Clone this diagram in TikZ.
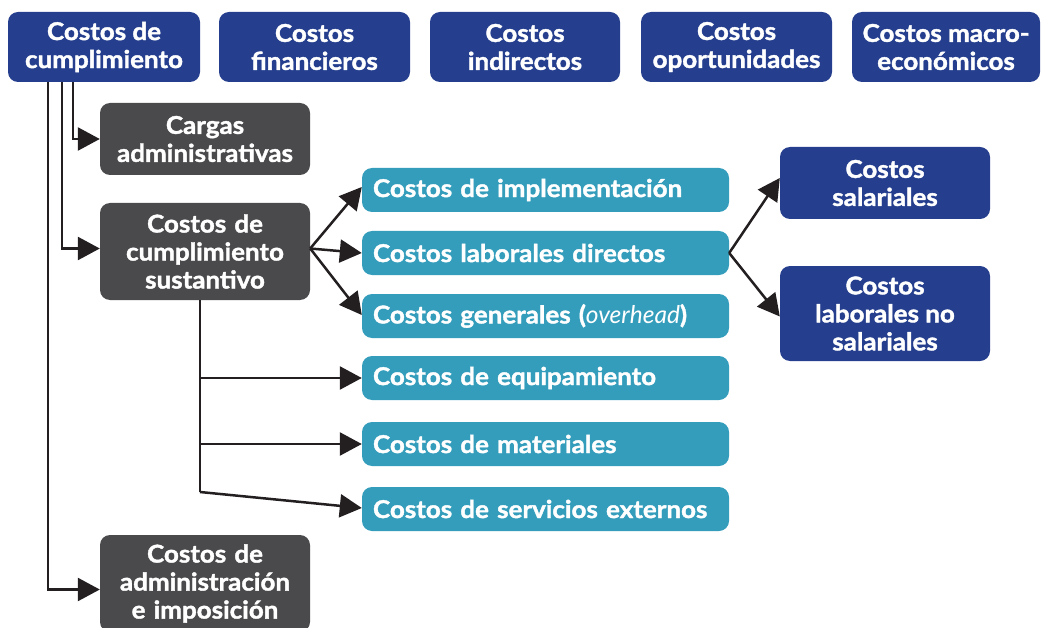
\documentclass[tikz,border=0pt]{standalone}
\usepackage{fontspec}
\setmainfont{Lato}[BoldFeatures={FakeBold=1.6,FakeStretch=1.06}]
\usetikzlibrary{arrows.meta}

\definecolor{costblue}{RGB}{37,63,142}
\definecolor{costgray}{RGB}{74,74,76}
\definecolor{costteal}{RGB}{51,157,187}
\definecolor{linedark}{RGB}{35,31,32}

\tikzset{
	box/.style={rounded corners=10pt, inner sep=0pt, text=white, font=\fontsize{24.5}{28}\selectfont\bfseries, align=center},
	bluebox/.style={box, fill=costblue},
	graybox/.style={box, fill=costgray, minimum width=210, text width=206},
	tealbox/.style={box, fill=costteal, minimum width=367, minimum height=44, text width=345, align=left},
	arr/.style={draw=linedark, line width=2.5pt, -{Triangle[length=22pt,width=23pt]}},
	ln/.style={draw=linedark, line width=2.5pt},
}

\begin{document}
\begin{tikzpicture}[x=1pt,y=1pt,yscale=-1,xscale=1]
	\useasboundingbox (0,0) rectangle (1043,628);

	% Top row
	\node[bluebox, minimum width=192, minimum height=70] (cumpl) at (104,47) {Costos de\\cumplimiento};
	\node[bluebox, minimum width=191, minimum height=70] (finan) at (314.5,47) {Costos\\financieros};
	\node[bluebox, minimum width=190, minimum height=70] (indir) at (525,47) {Costos\\indirectos};
	\node[bluebox, minimum width=191, minimum height=70] (oport) at (736.5,47) {Costos\\oportunidades};
	\node[bluebox, minimum width=188, minimum height=70] (macro) at (946,47) {Costos macro-\\econ\'omicos};

	% Gray boxes
	\node[graybox, minimum height=72] (cargas) at (205,139) {Cargas\\administrativas};
	\node[graybox, minimum height=97] (sust) at (205,251.5) {Costos de\\cumplimiento\\sustantivo};
	\node[graybox, minimum height=97] (admin) at (205,583.5) {Costos de\\administraci\'on\\e imposici\'on};

	% Teal boxes
	\node[tealbox] (impl) at (545.5,190) {Costos de implementaci\'on};
	\node[tealbox] (dir) at (545.5,253) {Costos laborales directos};
	\node[tealbox] (gen) at (545.5,316) {Costos generales (\textit{\mdseries overhead})};
	\node[tealbox] (equip) at (545.5,378) {Costos de equipamiento};
	\node[tealbox] (mat) at (545.5,444) {Costos de materiales};
	\node[tealbox] (serv) at (545.5,509) {Costos de servicios externos};

	% Right boxes
	\node[bluebox, minimum width=210, minimum height=72] (sal) at (885,183) {Costos\\salariales};
	\node[bluebox, minimum width=210, minimum height=95] (nosal) at (885,313.5) {Costos\\laborales no\\salariales};

	% Connectors from the first box
	\draw[arr] ([xshift=65]cumpl.south west) |- (cargas.west);
	\draw[arr] ([xshift=54]cumpl.south west) |- ([yshift=-3]sust.west);
	\draw[arr] ([xshift=40]cumpl.south west) |- ([yshift=6]admin.west);

	% Fan out of sustantivo
	\coordinate (fan) at ([yshift=-3]sust.east);
	\draw[arr] (fan) -- ([yshift=-3]impl.west);
	\draw[arr] (fan) -- (dir.west);
	\draw[arr] (fan) -- ([yshift=-1]gen.west);

	% Trunk below sustantivo
	\coordinate (trunk) at (200,492);
	\draw[ln] ([xshift=-5]sust.south) -- (trunk);
	\draw[arr] (trunk |- equip.west) -- (equip.west);
	\draw[arr] (trunk |- mat.west) -- (mat.west);
	\draw[arr] (trunk) -- ([yshift=-1]serv.west);

	% Labour costs split
	\draw[arr] (dir.east) -- ([yshift=-5]sal.west);
	\draw[arr] (dir.east) -- ([yshift=3]nosal.west);
\end{tikzpicture}
\end{document}
